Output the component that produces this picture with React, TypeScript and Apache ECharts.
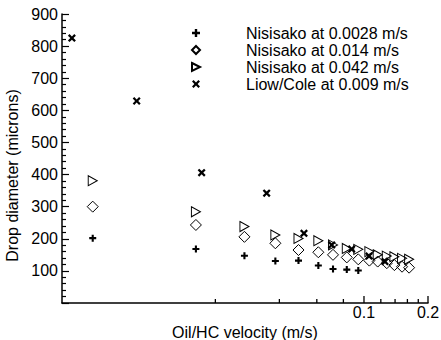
import React, { useEffect, useRef } from "react";
import * as echarts from "echarts";

const velocity = [0.0053, 0.0162, 0.0274, 0.0383, 0.0492, 0.061, 0.0715, 0.083, 0.094, 0.106, 0.116, 0.128, 0.139, 0.151, 0.163];
const nisisako0028 = [202, 168, 147, 131, 132, 117, 106, 104, 101];
const nisisako014 = [300, 243, 206, 186, 165, 158, 150, 142, 136, 132, 129, 124, 118, 113, 110];
const nisisako042 = [381, 284, 238, 212, 201, 194, 181, 170, 167, 160, 150, 146, 144, 139, 136];
const liowVelocity = [0.00423, 0.00853, 0.01724, 0.03485, 0.0522, 0.0705, 0.0875, 0.1056, 0.1255];
const liowCole = [825, 629, 406, 342, 217, 181, 168, 146, 129];

const seriesNames = [
  "Nisisako at 0.0028 m/s",
  "Nisisako at 0.014 m/s",
  "Nisisako at 0.042 m/s",
  "Liow/Cole at 0.009 m/s",
];
const xMinorTicks = [0.02, 0.04, 0.06, 0.08, 0.12, 0.14, 0.16, 0.18];
const xMajorTicks = [0.1, 0.2];
const yMajorTicks = [100, 200, 300, 400, 500, 600, 700, 800, 900];

const X_MIN = 0.0038;
const X_MAX = 0.2;
const FONT = "'Liberation Sans', Arial, Helvetica, sans-serif";

const PLUS = "path://M3.5,0h3v3.5h3.5v3h-3.5v3.5h-3v-3.5h-3.5v-3h3.5z";
const CROSS = "path://M0,2L2,0L5,3L8,0L10,2L7,5L10,8L8,10L5,7L2,10L0,8L3,5Z";
const TRI = "path://M0,0L10,5L0,10Z";

function pairs(xs: number[], ys: number[]) {
  return ys.map((y, i) => [xs[i], y]);
}

function xTickSeries(values: number[], len: number) {
  return {
    type: "scatter",
    silent: true,
    clip: false,
    symbol: "rect",
    symbolSize: [1.3, len],
    symbolOffset: [0, -len / 2],
    itemStyle: { color: "#000", opacity: 1 },
    z: 1,
    data: values.map((v) => [v, 0]),
  };
}

export default function App() {
  const ref = useRef<HTMLDivElement>(null);
  useEffect(() => {
    if (!ref.current) return;
    const chart = echarts.init(ref.current, null, { renderer: "svg" });
    const hollow = { color: "rgba(0,0,0,0)", borderColor: "#000", borderWidth: 1, opacity: 1 };

    chart.setOption({
      animation: false,
      backgroundColor: "#fff",
      textStyle: { fontFamily: FONT },
      grid: { left: 62, right: 13, top: 14, bottom: 37, containLabel: false, outerBoundsMode: "none" },
      legend: {
        orient: "vertical",
        left: 186,
        top: 20,
        itemWidth: 8,
        itemHeight: 8,
        itemGap: 1,
        data: seriesNames,
        textStyle: { fontSize: 16, color: "#000", fontFamily: FONT, lineHeight: 16, padding: [0, 0, 0, 41] },
        selectedMode: false,
      },
      xAxis: {
        type: "log",
        logBase: 10,
        min: X_MIN,
        max: X_MAX,
        name: "Oil/HC velocity (m/s)",
        nameLocation: "middle",
        nameGap: 7,
        nameTextStyle: { fontSize: 16, color: "#000", fontFamily: FONT },
        axisLine: { show: true, lineStyle: { color: "#000", width: 1.5 } },
        axisTick: { show: false },
        axisLabel: { show: true, customValues: xMajorTicks, margin: 1, fontSize: 16, color: "#000", fontFamily: FONT, formatter: (v: number) => String(v) },
        splitLine: { show: false },
        minorTick: { show: false },
      },
      yAxis: {
        type: "value",
        min: 0,
        max: 900,
        interval: 100,
        name: "Drop diameter (microns)",
        nameLocation: "middle",
        nameGap: 39,
        nameRotate: 90,
        nameTextStyle: { fontSize: 16, color: "#000", fontFamily: FONT, padding: [0, 34, 0, 0] },
        axisLine: { show: true, lineStyle: { color: "#000", width: 1.5 } },
        axisTick: { show: true, inside: true, length: 7, lineStyle: { color: "#000", width: 1.2 } },
        minorTick: { show: true, splitNumber: 5, length: 4, lineStyle: { color: "#000", width: 1.2 } },
        axisLabel: {
          margin: 4,
          fontSize: 16,
          color: "#000",
          fontFamily: FONT,
          formatter: (v: number) => (yMajorTicks.indexOf(v) >= 0 ? String(v) : ""),
        },
        splitLine: { show: false },
      },
      series: [
        xTickSeries(xMinorTicks, 4),
        xTickSeries(xMajorTicks, 7),
        {
          name: seriesNames[0],
          type: "scatter",
          symbol: PLUS,
          symbolSize: 7,
          itemStyle: { color: "#000", opacity: 1 },
          data: pairs(velocity, nisisako0028),
        },
        {
          name: seriesNames[1],
          type: "scatter",
          symbol: "diamond",
          symbolSize: [11, 11],
          itemStyle: hollow,
          data: pairs(velocity, nisisako014),
        },
        {
          name: seriesNames[2],
          type: "scatter",
          symbol: TRI,
          symbolSize: [9, 10],
          itemStyle: hollow,
          data: pairs(velocity, nisisako042),
        },
        {
          name: seriesNames[3],
          type: "scatter",
          symbol: CROSS,
          symbolSize: 8,
          itemStyle: { color: "#000", opacity: 1 },
          data: pairs(liowVelocity, liowCole),
        },
      ],
    });
    return () => chart.dispose();
  }, []);
  return <div ref={ref} style={{ width: 441, height: 340, position: "absolute", left: 0, top: 0 }} />;
}
